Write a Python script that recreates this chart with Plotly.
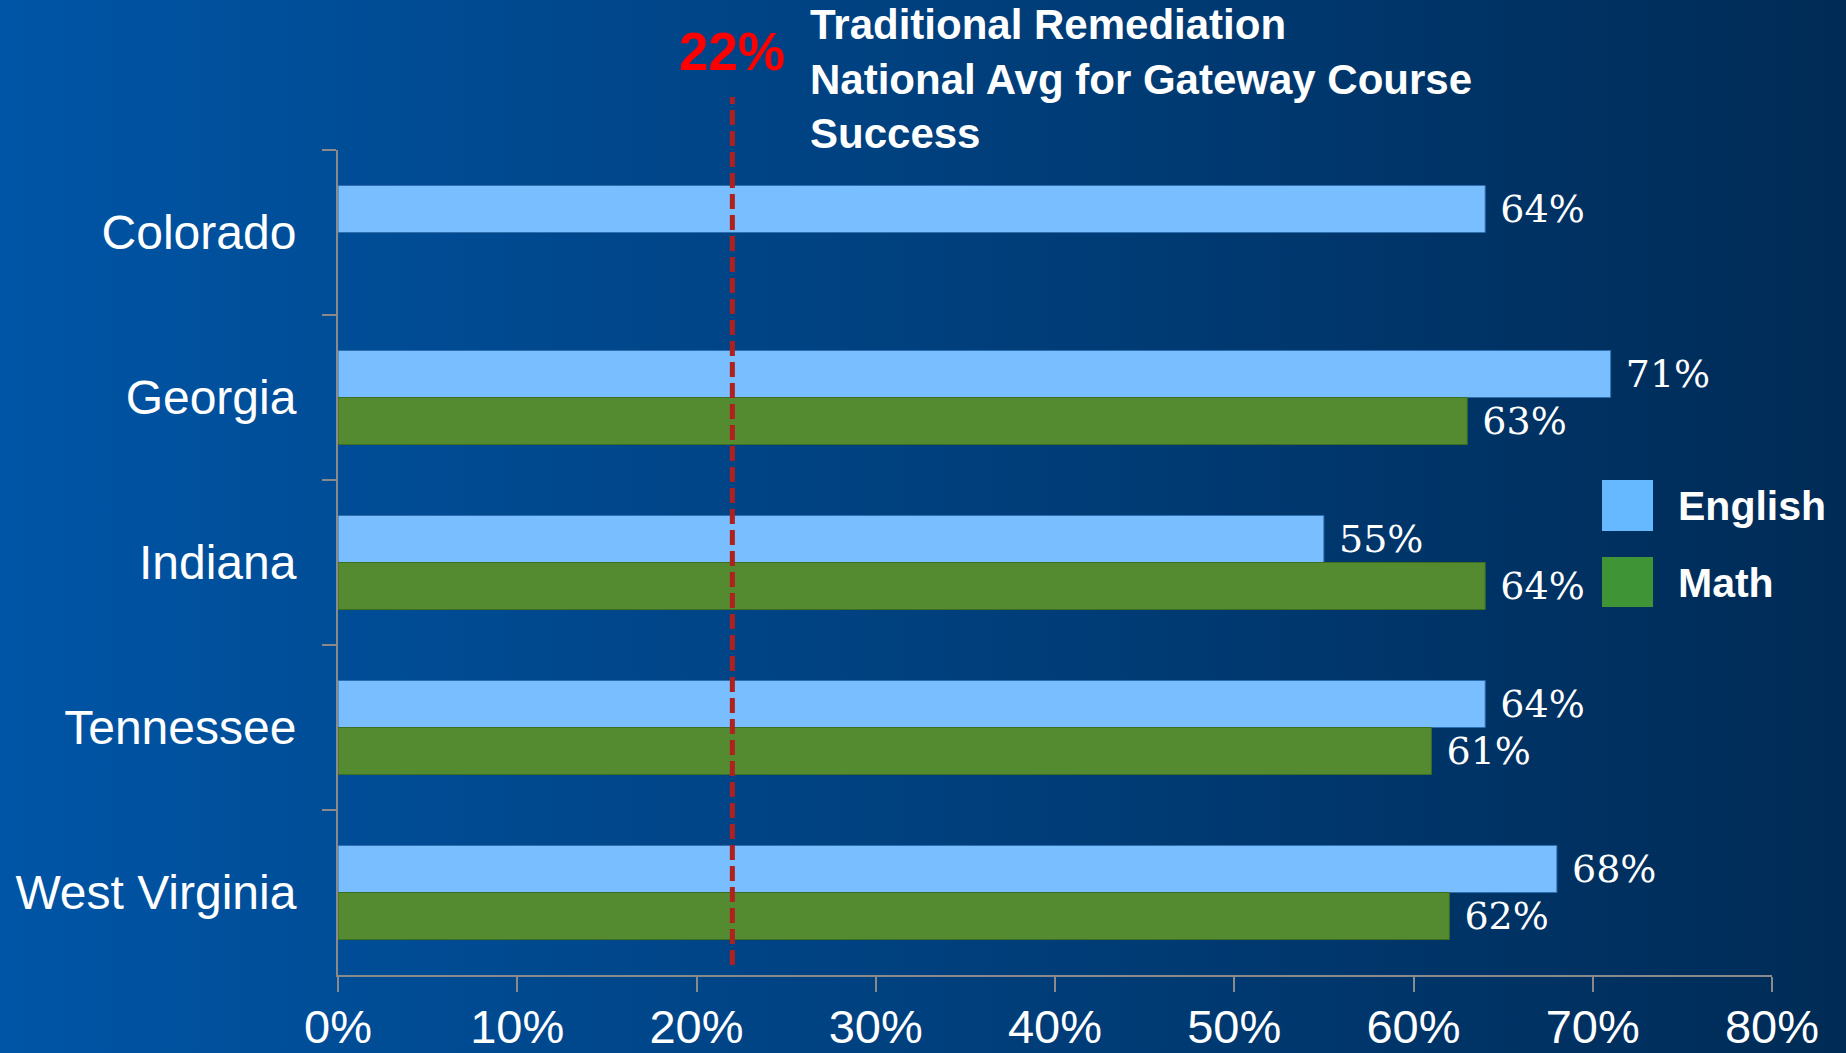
import base64
import plotly.graph_objects as go

states = ["Colorado", "Georgia", "Indiana", "Tennessee", "West Virginia"]
english = [64, 71, 55, 64, 68]
math = [None, 63, 64, 61, 62]
national_avg = 22
x_ticks = [0, 10, 20, 30, 40, 50, 60, 70, 80]
x_tick_labels = [f"{v}%" for v in x_ticks]

W, H = 1846, 1053
ml, mr, mt, mb = 338, 74, 150, 78
pw, ph = W - ml - mr, H - mt - mb

def px(x):
    return (x - ml) / pw

def py(y):
    return (H - mb - y) / ph

svg = (
    '<svg xmlns="http://www.w3.org/2000/svg" width="1846" height="1053" preserveAspectRatio="none">'
    '<defs><linearGradient id="g" x1="0" y1="0" x2="1" y2="0">'
    '<stop offset="0" stop-color="#0055A6"/><stop offset="1" stop-color="#002B56"/>'
    '</linearGradient></defs><rect width="1846" height="1053" fill="url(#g)"/></svg>'
)
bg_uri = "data:image/svg+xml;base64," + base64.b64encode(svg.encode()).decode()

font_sans = "Arial, Liberation Sans, sans-serif"
font_serif = "DejaVu Serif, serif"

fig = go.Figure()
fig.add_trace(go.Bar(
    y=states, x=english, orientation="h", name="English",
    marker=dict(color="#79BEFF", line=dict(color="#2E6FB0", width=1)),
    texttemplate=" %{x}%", textposition="outside", constraintext="none",
    textfont=dict(family=font_serif, size=38, color="white"),
    cliponaxis=False,
))
fig.add_trace(go.Bar(
    y=states, x=math, orientation="h", name="Math",
    marker=dict(color="#548B30", line=dict(color="#3E6E22", width=1)),
    texttemplate=" %{x}%", textposition="outside", constraintext="none",
    textfont=dict(family=font_serif, size=38, color="white"),
    cliponaxis=False,
))

fig.add_shape(type="line", xref="x", yref="paper", x0=national_avg, x1=national_avg,
              y0=py(965), y1=py(97), line=dict(color="#B0201E", width=5, dash="15px,6px"))

# custom legend
fig.add_shape(type="rect", xref="paper", yref="paper", x0=px(1602), x1=px(1653),
              y0=py(531), y1=py(480), fillcolor="#66B8FF", line=dict(width=0))
fig.add_shape(type="rect", xref="paper", yref="paper", x0=px(1602), x1=px(1653),
              y0=py(607), y1=py(557), fillcolor="#3F9535", line=dict(width=0))
fig.add_annotation(xref="paper", yref="paper", x=px(1676), y=py(506), text="<b>English</b>",
                   showarrow=False, xanchor="left", yanchor="middle",
                   font=dict(family=font_sans, size=41, color="white"))
fig.add_annotation(xref="paper", yref="paper", x=px(1676), y=py(583), text="<b>Math</b>",
                   showarrow=False, xanchor="left", yanchor="middle",
                   font=dict(family=font_sans, size=41, color="white"))

fig.add_annotation(xref="x", yref="paper", x=national_avg, y=py(52), text="<b>22%</b>",
                   showarrow=False, xanchor="center", yanchor="middle",
                   font=dict(family=font_sans, size=53, color="#FF0000"))
fig.add_annotation(xref="paper", yref="paper", x=px(808), y=py(79),
                   text="<b>Traditional Remediation<br>National Avg for Gateway Course<br>Success</b>",
                   showarrow=False, xanchor="left", yanchor="middle", align="left",
                   font=dict(family=font_sans, size=42, color="white"))

fig.add_layout_image(dict(source=bg_uri, xref="paper", yref="paper", x=-ml / pw, y=1 + mt / ph,
                          sizex=W / pw, sizey=H / ph, sizing="stretch", xanchor="left",
                          yanchor="top", layer="below"))

fig.update_layout(
    width=W, height=H,
    margin=dict(l=ml, r=mr, t=mt, b=mb, autoexpand=False),
    paper_bgcolor="#003F7D", plot_bgcolor="rgba(0,0,0,0)",
    barmode="group", bargap=0.43, bargroupgap=0,
    showlegend=False,
    xaxis=dict(range=[0, 80], tickvals=x_ticks, ticktext=x_tick_labels, showgrid=False,
               zeroline=False, showline=True, linecolor="#8A8A8A", linewidth=2, ticks="outside",
               ticklen=15, tickwidth=2, tickcolor="#8A8A8A", ticklabelstandoff=-5,
               tickfont=dict(family=font_sans, size=47, color="white"), automargin=False),
    yaxis=dict(type="category", categoryorder="array", categoryarray=states,
               autorange="reversed", showgrid=False, zeroline=False, showline=True,
               linecolor="#8A8A8A", linewidth=2, ticks="outside", ticklen=14, tickwidth=2,
               tickcolor="#8A8A8A", tickson="boundaries", ticklabelstandoff=30,
               tickfont=dict(family=font_sans, size=48, color="white"), automargin=False),
)

fig.write_html("out.html", config={"displayModeBar": False},
               post_script="document.body.style.margin='0';document.body.style.padding='0';"
                           "document.body.style.overflow='hidden';")
